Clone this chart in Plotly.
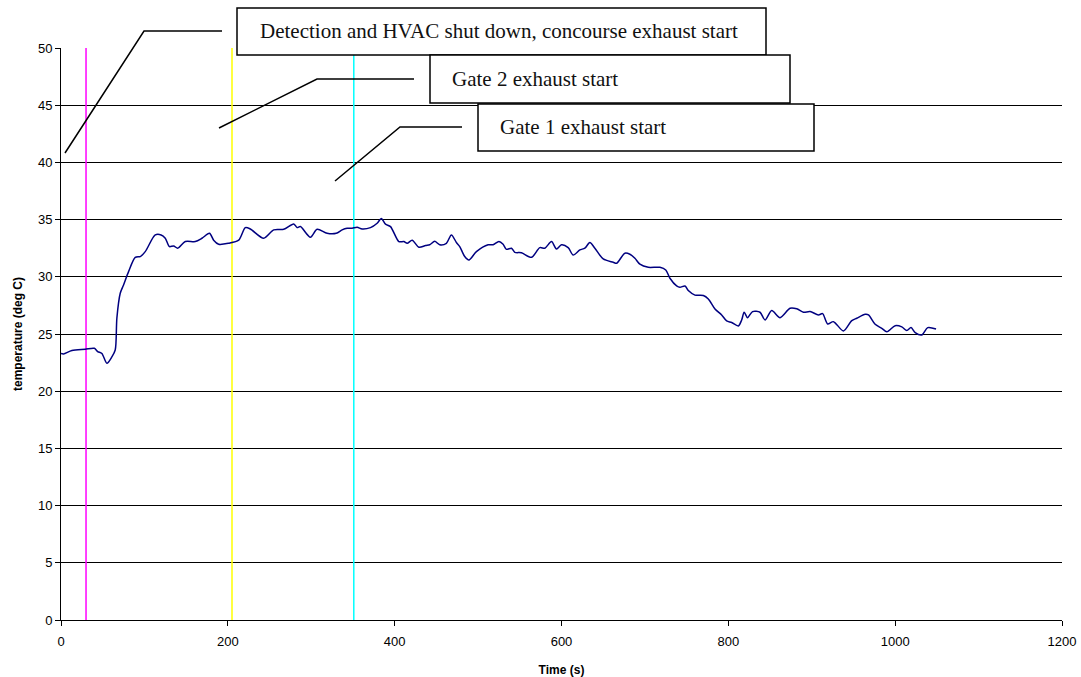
import plotly.graph_objects as go

# ---------------- data ----------------
time_s = [0, 3, 13, 29, 40, 44, 49, 55, 61, 65, 67, 71, 75, 81, 89, 95, 101, 113, 120, 125,
          130, 135, 140, 149, 161, 169, 178, 183, 189, 201, 213, 221, 227, 243, 255, 267, 279,
          283, 287, 299, 307, 319, 330, 337, 343, 349, 355, 361, 371, 379, 384, 389, 395, 405,
          411, 415, 421, 429, 437, 442, 448, 454, 462, 468, 474, 478, 484, 489, 498, 512, 518,
          525, 530, 534, 540, 544, 552, 564, 574, 580, 588, 594, 600, 608, 614, 622, 628, 634,
          640, 650, 662, 666, 676, 682, 688, 694, 704, 718, 725, 730, 738, 742, 748, 752, 760,
          770, 776, 784, 792, 798, 804, 812, 816, 819, 823, 829, 838, 844, 852, 862, 874, 882,
          890, 898, 908, 913, 919, 926, 938, 948, 954, 964, 968, 976, 984, 990, 1000, 1008,
          1014, 1019, 1024, 1032, 1039, 1049]
temperature = [23.3, 23.26, 23.55, 23.67, 23.75, 23.46, 23.3, 22.44, 23.0, 23.6, 26.4, 28.56,
               29.29, 30.45, 31.7, 31.77, 32.2, 33.66, 33.66, 33.37, 32.64, 32.7, 32.5, 33.08,
               33.08, 33.37, 33.8, 33.2, 32.84, 32.93, 33.2, 34.3, 34.18, 33.37, 34.1, 34.15,
               34.62, 34.3, 34.39, 33.46, 34.15, 33.8, 33.8, 34.1, 34.24, 34.24, 34.33, 34.18,
               34.3, 34.68, 35.1, 34.6, 34.39, 33.08, 33.08, 32.93, 33.2, 32.58, 32.73, 32.8,
               33.1, 32.8, 32.93, 33.66, 33.0, 32.64, 31.77, 31.47, 32.2, 32.8, 32.8, 33.08,
               32.84, 32.4, 32.5, 32.14, 32.1, 31.7, 32.55, 32.5, 33.08, 32.44, 32.8, 32.55,
               31.9, 32.35, 32.5, 33.0, 32.5, 31.56, 31.27, 31.18, 32.06, 31.97, 31.62, 31.1,
               30.83, 30.83, 30.6, 29.87, 29.2, 29.08, 29.2, 28.8, 28.4, 28.36, 28.06, 27.19,
               26.67, 26.14, 26.0, 25.7, 26.23, 26.9, 26.43, 26.96, 26.9, 26.23, 27.05, 26.43,
               27.25, 27.2, 26.9, 26.96, 26.67, 26.78, 25.88, 26.08, 25.27, 26.17, 26.38, 26.72,
               26.67, 25.85, 25.5, 25.2, 25.73, 25.62, 25.3, 25.56, 25.12, 24.92, 25.56, 25.44]

event_times = [30, 205, 351]
event_colors = ["#FF00FF", "#FFFF00", "#00FFFF"]
event_labels = ["Detection and HVAC shut down, concourse exhaust start",
                "Gate 2 exhaust start",
                "Gate 1 exhaust start"]

x_ticks = [0, 200, 400, 600, 800, 1000, 1200]
y_ticks = [0, 5, 10, 15, 20, 25, 30, 35, 40, 45, 50]

# ---------------- layout geometry (pixels) ----------------
W, H = 1081, 677
L, R, T, B = 61, 1062, 48, 620  # plot area edges


def px(xp):
    return (xp - L) / (R - L)


def py(yp):
    return (B - yp) / (B - T)


fig = go.Figure()

# event lines
for t, c in zip(event_times, event_colors):
    fig.add_trace(go.Scatter(x=[t, t], y=[0, 50], mode="lines",
                             line=dict(color=c, width=1.5), hoverinfo="skip", showlegend=False))

fig.add_trace(go.Scatter(x=time_s, y=temperature, mode="lines",
                         line=dict(color="#000080", width=1.5, shape="spline", smoothing=0.8),
                         showlegend=False))

# callout boxes (pixel rects) and leader lines (pixel polylines)
boxes = [(237, 8, 766, 55), (430, 55, 790, 103), (478, 104, 814, 151)]
leaders = [[(65, 153), (144, 31), (222, 31)],
           [(219, 128), (317, 79), (414, 79)],
           [(335, 181), (400, 127), (462, 127)]]
text_pos = [(258, 31), (450, 79), (498, 127)]

shapes = []
for (x0, y0, x1, y1), pts in zip(boxes, leaders):
    path = "M " + " L ".join(f"{px(a):.5f},{py(b):.5f}" for a, b in pts)
    shapes.append(dict(type="path", xref="paper", yref="paper", path=path,
                       line=dict(color="black", width=1.5), layer="above"))
    shapes.append(dict(type="rect", xref="paper", yref="paper",
                       x0=px(x0), x1=px(x1), y0=py(y1), y1=py(y0),
                       line=dict(color="black", width=1.5), fillcolor="white", layer="above"))

annotations = []
for (tx, ty), lab in zip(text_pos, event_labels):
    annotations.append(dict(x=px(tx), y=py(ty), xref="paper", yref="paper", text=lab,
                            showarrow=False, xanchor="left", yanchor="middle",
                            font=dict(family="Liberation Serif", size=21, color="#111111")))

fig.update_layout(
    width=W, height=H,
    margin=dict(l=L, r=W - R, t=T, b=H - B, autoexpand=False),
    paper_bgcolor="white", plot_bgcolor="white",
    shapes=shapes, annotations=annotations,
    font=dict(family="Liberation Sans, Arial", color="black", size=13),
    xaxis=dict(range=[0, 1200], tickvals=x_ticks, showgrid=False, zeroline=False,
               showline=True, linecolor="black", linewidth=1, ticks="outside", ticklen=5,
               tickcolor="black", tickfont=dict(size=13), automargin=False,
               ticklabelstandoff=4,
               title=dict(text="<b>Time (s)</b>", font=dict(size=12), standoff=18)),
    yaxis=dict(range=[0, 50], tickvals=y_ticks, showgrid=True, gridcolor="black", gridwidth=1,
               zeroline=False, showline=True, linecolor="black", linewidth=1, ticks="outside",
               ticklen=5, tickcolor="black", tickfont=dict(size=13), automargin=False,
               title=dict(text="<b>temperature (deg C)</b>", font=dict(size=12), standoff=12)),
)

fig.write_html("out.html")
